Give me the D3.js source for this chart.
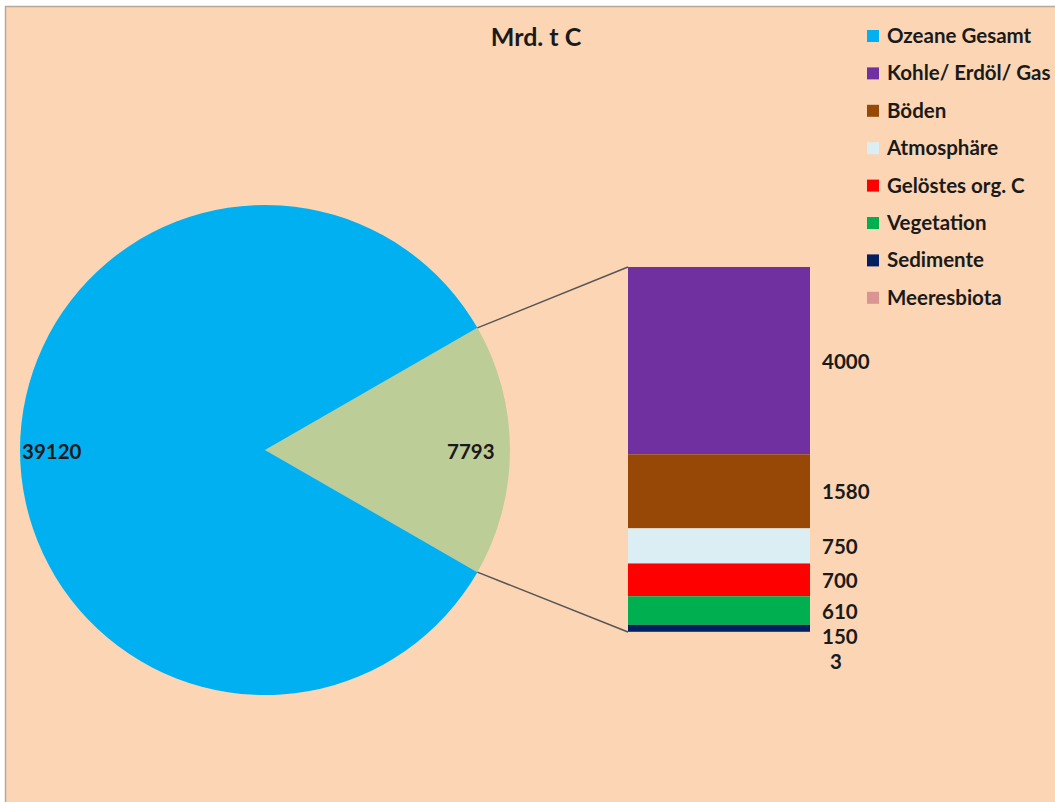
<!DOCTYPE html>
<html>
<head>
<meta charset="utf-8">
<script src="https://cdn.jsdelivr.net/npm/d3@7"></script>
<style>
  body { margin: 0; background: #fff; }
  svg { display: block; }
  text { font-family: Lato, "Open Sans", sans-serif; font-weight: 700; fill: #1a1a1a; }
</style>
</head>
<body>
<div id="wrapper"></div>
<script>
// pie: ocean total vs. rest
const pieNames = ["Ozeane Gesamt", "Übrige"];
const pieValues = [39120, 7793];

// breakdown of the rest (stacked bar)
const barNames = ["Kohle/ Erdöl/ Gas", "Böden", "Atmosphäre", "Gelöstes org. C", "Vegetation", "Sedimente", "Meeresbiota"];
const barValues = [4000, 1580, 750, 700, 610, 150, 3];

const legendNames = ["Ozeane Gesamt", "Kohle/ Erdöl/ Gas", "Böden", "Atmosphäre", "Gelöstes org. C", "Vegetation", "Sedimente", "Meeresbiota"];
const title = "Mrd. t C";

function build() {
    const colors = {
        "Ozeane Gesamt": "#00b0f0",
        "Übrige": "#bccd98",
        "Kohle/ Erdöl/ Gas": "#7030a0",
        "Böden": "#974706",
        "Atmosphäre": "#daeef3",
        "Gelöstes org. C": "#ff0000",
        "Vegetation": "#00b050",
        "Sedimente": "#002060",
        "Meeresbiota": "#d99594"
    };

    const dimension = { width: 1055, height: 802 };
    const fs = "20.5px";

    const wrapper = d3.select("#wrapper")
        .append("svg")
        .attr("width", dimension.width)
        .attr("height", dimension.height);

    // chart area background
    wrapper.append("rect")
        .attr("x", 5.5).attr("y", 6.5)
        .attr("width", dimension.width)
        .attr("height", dimension.height)
        .attr("fill", "#fcd5b5")
        .attr("stroke", "#b8a898")
        .attr("stroke-width", 1.5);

    wrapper.append("text")
        .attr("x", 536).attr("y", 46)
        .attr("text-anchor", "middle")
        .style("font-size", "25px")
        .text(title);

    // pie
    const cx = 265, cy = 450, r = 245;
    const total = d3.sum(pieValues);
    const restShare = pieValues[1] / total;
    const start = Math.PI / 2 - restShare * Math.PI;

    const pieData = d3.pie()
        .sort(null)
        .startAngle(start)
        .endAngle(start + 2 * Math.PI)
        .value(d => d.value)([
            { name: pieNames[1], value: pieValues[1] },
            { name: pieNames[0], value: pieValues[0] }
        ]);

    const arc = d3.arc().innerRadius(0).outerRadius(r);

    const pieG = wrapper.append("g")
        .attr("transform", `translate(${cx},${cy})`);

    pieG.selectAll("path")
        .data(pieData)
        .enter()
        .append("path")
        .attr("d", arc)
        .attr("fill", d => colors[d.data.name]);

    // pie labels
    pieG.append("text")
        .attr("x", -r + 2).attr("y", 9)
        .style("font-size", fs)
        .text(pieValues[0]);

    pieG.append("text")
        .attr("x", r * 0.84).attr("y", 9)
        .attr("text-anchor", "middle")
        .style("font-size", fs)
        .text(pieValues[1]);

    // stacked bar
    const barX = 628, barW = 182, barTop = 267, barH = 365;
    const y = d3.scaleLinear()
        .domain([0, d3.sum(barValues)])
        .range([barTop, barTop + barH]);

    let cum = 0;
    const segs = barValues.map((v, i) => {
        const s = { name: barNames[i], value: v, y0: cum, y1: cum + v };
        cum += v;
        return s;
    });

    // connector lines
    const a0 = pieData[0].startAngle, a1 = pieData[0].endAngle;
    const p0 = [cx + r * Math.sin(a0), cy - r * Math.cos(a0)];
    const p1 = [cx + r * Math.sin(a1), cy - r * Math.cos(a1)];
    wrapper.append("line")
        .attr("x1", p0[0]).attr("y1", p0[1])
        .attr("x2", barX).attr("y2", y(0))
        .attr("stroke", "#555").attr("stroke-width", 1.5);
    wrapper.append("line")
        .attr("x1", p1[0]).attr("y1", p1[1])
        .attr("x2", barX).attr("y2", y(cum))
        .attr("stroke", "#555").attr("stroke-width", 1.5);

    wrapper.append("g")
        .selectAll("rect")
        .data(segs)
        .enter()
        .append("rect")
        .attr("x", barX)
        .attr("width", barW)
        .attr("y", d => y(d.y0))
        .attr("height", d => y(d.y1) - y(d.y0))
        .attr("fill", d => colors[d.name]);

    // bar labels, pushed down when they would overlap
    let lastY = -Infinity;
    const labelPos = segs.map(d => {
        let ly = (y(d.y0) + y(d.y1)) / 2;
        if (ly < lastY + 25) ly = lastY + 25;
        lastY = ly;
        return ly;
    });

    wrapper.append("g")
        .selectAll("text")
        .data(segs)
        .enter()
        .append("text")
        .attr("x", (d, i) => i === segs.length - 1 ? 830 : 822)
        .attr("y", (d, i) => labelPos[i] + 8)
        .style("font-size", fs)
        .text(d => d.value);

    // legend
    const legend = wrapper.append("g")
        .attr("transform", "translate(867,36)")
        .selectAll("g")
        .data(legendNames)
        .enter()
        .append("g")
        .attr("transform", (d, i) => `translate(0,${i * 37.4})`);

    legend.append("rect")
        .attr("x", 0).attr("y", -6)
        .attr("width", 12).attr("height", 12)
        .attr("fill", d => colors[d]);

    legend.append("text")
        .attr("x", 20).attr("y", 7)
        .style("font-size", fs)
        .text(d => d);
}

build();
</script>
</body>
</html>
